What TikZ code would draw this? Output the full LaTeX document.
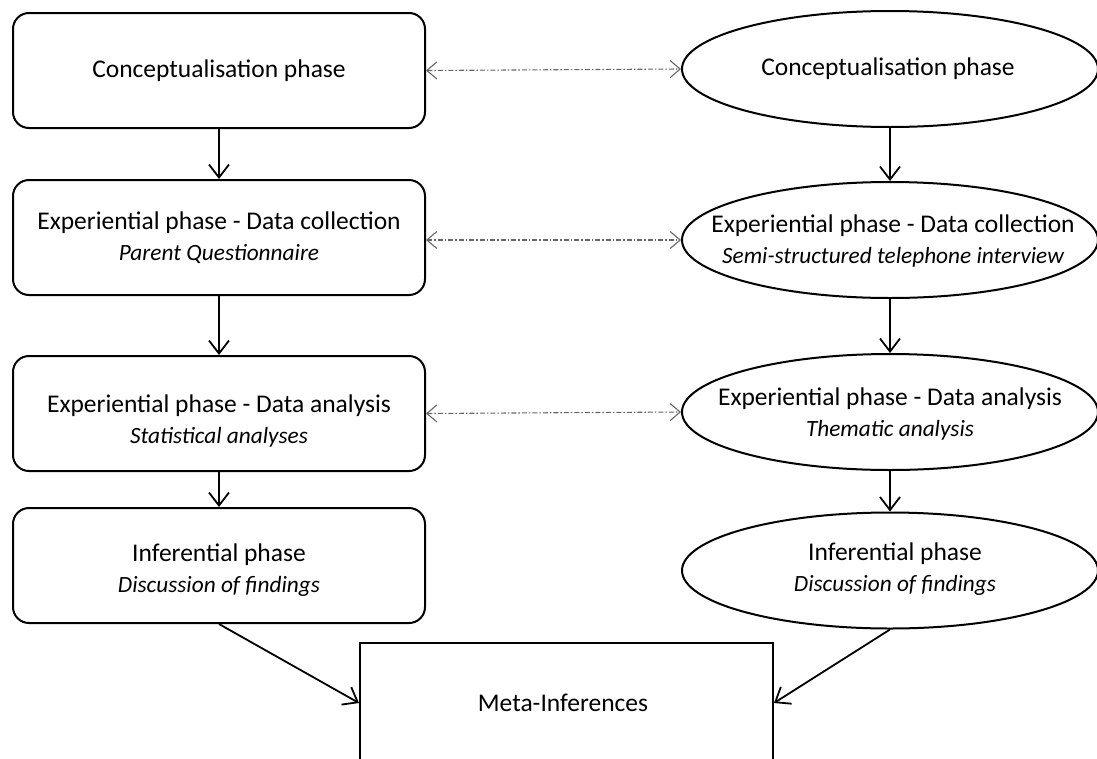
\documentclass[tikz,border=0pt]{standalone}
\usepackage{fontspec}
\setmainfont{Carlito}
\usetikzlibrary{shapes.geometric,arrows.meta}
\newcommand{\subline}[1]{{\fontsize{23.3}{31}\selectfont\itshape #1}}
\begin{document}
\begin{tikzpicture}[x=1pt,y=-1pt,
  every node/.style={font=\fontsize{25.5}{31}\selectfont},
  rbox/.style={draw,line width=2pt,rounded corners=16pt,minimum width=412pt,minimum height=115pt,inner sep=0pt},
  ellnode/.style={draw,ellipse,line width=2pt,minimum width=416pt,minimum height=116pt,inner sep=0pt},
  txt/.style={align=center,inner sep=0pt},
  flow/.style={line width=1.8pt,-{Straight Barb[length=13pt,width=20pt,line width=1.8pt]}},
  link/.style={line width=1.1pt,draw=gray!80!black,dash pattern=on 5pt off 2pt on 1.5pt off 2pt,
     {Straight Barb[length=10pt,width=17pt,line width=1.1pt]}-{Straight Barb[length=10pt,width=17pt,line width=1.1pt]}},
  mbox/.style={draw,line width=2pt,minimum width=413pt,minimum height=120pt,inner sep=0pt}
]
\clip (0,0) rectangle (1097,758);
% left column
\node[rbox] (L1) at (219,70.5) {};
\node[txt] (L1t) at (L1) {Conceptualisation phase};
\node[rbox] (L2) at (219,237.5) {};
\node[txt] (L2t) at (L2) {Experiential phase - Data collection\\ \subline{Parent Questionnaire}};
\node[rbox] (L3) at (219,413.5) {};
\node[txt] (L3t) at (219,421) {Experiential phase - Data analysis\\ \subline{Statistical analyses}};
\node[rbox] (L4) at (219,565.5) {};
\node[txt] (L4t) at (219,570) {Inferential phase\\ \subline{Discussion of findings}};
% right column
\node[ellnode] (R1) at (890,69) {};
\node[txt] (R1t) at (888,69) {Conceptualisation phase};
\node[ellnode] (R2) at (890,240) {};
\node[txt] (R2t) at (893,241) {Experiential phase - Data collection\\ \subline{Semi-structured telephone interview}};
\node[ellnode] (R3) at (890,412) {};
\node[txt] (R3t) at (890,414) {Experiential phase - Data analysis\\ \subline{Thematic analysis}};
\node[ellnode] (R4) at (890,570.5) {};
\node[txt] (R4t) at (895,569) {Inferential phase\\ \subline{Discussion of findings}};
% bottom
\node[mbox] (M) at (566.5,703) {};
\node[txt] (Mt) at (563,703) {Meta-Inferences};
% flow arrows
\draw[flow] (L1.south) -- (L2.north);
\draw[flow] (L2.south) -- (L3.north);
\draw[flow] (L3.south) -- (L4.north);
\draw[flow] (R1.south) -- (R2.north);
\draw[flow] (R2.south) -- (R3.north);
\draw[flow] (R3.south) -- (R4.north);
\draw[flow] (L4.south) -- (M.west);
\draw[flow] (R4.south) -- (M.east);
% links
\draw[link] (L1.east) -- (R1.west);
\draw[link] (L2.east |- R2.west) -- (R2.west);
\draw[link] (L3.east) -- (R3.west);
\end{tikzpicture}
\end{document}
